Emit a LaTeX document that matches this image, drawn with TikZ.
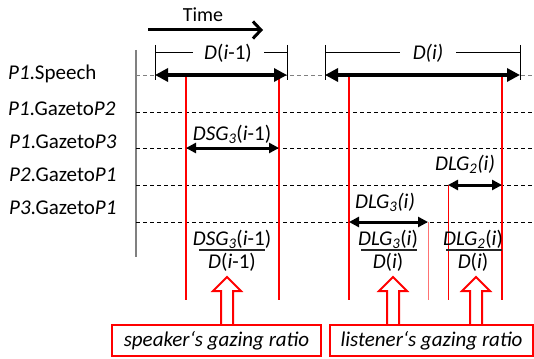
\documentclass[tikz,border=0pt]{standalone}
\usepackage{fontspec}
\setmainfont{Carlito}
\usetikzlibrary{arrows.meta}
\begin{document}
\begin{tikzpicture}[x=1pt,y=-1pt,
  every node/.style={font=\fontsize{21}{24}\selectfont, inner sep=0pt},
  lbl/.style={anchor=west},
  rowline/.style={dash pattern=on 4pt off 3pt, line width=0.9pt},
  bigarr/.style={line width=3.2pt, {Triangle[length=13pt,width=13pt]}-{Triangle[length=13pt,width=13pt]}},
  smallarr/.style={line width=3pt, {Triangle[length=10pt,width=10pt]}-{Triangle[length=10pt,width=10pt]}},
  redline/.style={red, line width=2.5pt},
  thinred/.style={red, line width=1pt},
  bracket/.style={line width=1pt},
  fracbar/.style={black!85, line width=1.2pt},
  ratiobox/.style={draw=red, line width=2pt, fill=white, minimum height=31pt, font=\fontsize{21}{24}\selectfont\itshape},
  blockarrow/.style={draw=red, line width=2pt, fill=white, line join=miter}
]
\useasboundingbox (0,0) rectangle (534,358);

% time arrow
\node[font=\fontsize{20}{24}\selectfont] (time) at (203,15) {Time};
\coordinate (tA) at (148,30);
\coordinate (tB) at (263,30);
\draw[line width=3pt, -{Straight Barb[length=8pt,width=17pt]}] (tA) -- (tB);

% axis
\coordinate (ax1) at (136,50);
\coordinate (ax2) at (136,257);
\draw[gray, line width=1.5pt] (ax1) -- (ax2);

% row labels
\node[lbl] (l1) at (8,74) {\textit{P1}.Speech};
\node[lbl] (l2) at (8,109) {\textit{P1}.Gazeto\textit{P2}};
\node[lbl] (l3) at (9,142) {\textit{P1}.Gazeto\textit{P3}};
\node[lbl] (l4) at (9,175) {\textit{P2}.Gazeto\textit{P1}};
\node[lbl] (l5) at (9,208) {\textit{P3}.Gazeto\textit{P1}};

% dashed rows
\coordinate (r1a) at (136,75);  \coordinate (r1b) at (534,75);
\coordinate (r2a) at (136,112); \coordinate (r2b) at (534,112);
\coordinate (r3a) at (136,148); \coordinate (r3b) at (534,148);
\coordinate (r4a) at (136,185); \coordinate (r4b) at (534,185);
\coordinate (r5a) at (136,222); \coordinate (r5b) at (534,222);
\draw[rowline, gray] (r1a) -- (r1b);
\draw[rowline] (r2a) -- (r2b);
\draw[rowline] (r3a) -- (r3b);
\draw[rowline] (r4a) -- (r4b);
\draw[rowline] (r5a) -- (r5b);

% brackets D(i-1)
\node (d1) at (228,53) {\textit{D}(\textit{i}-1)};
\coordinate (b1a) at (155,45); \coordinate (b1b) at (155,80);
\coordinate (b1c) at (287,45); \coordinate (b1d) at (287,80);
\coordinate (b1e) at (155,53); \coordinate (b1f) at (193,53);
\coordinate (b1g) at (264,53); \coordinate (b1h) at (287,53);
\draw[bracket] (b1a) -- (b1b);
\draw[bracket] (b1c) -- (b1d);
\draw[bracket] (b1e) -- (b1f);
\draw[bracket] (b1g) -- (b1h);

% brackets D(i)
\node (d2) at (428,53) {\textit{D(i)}};
\coordinate (b2a) at (325,45); \coordinate (b2b) at (325,80);
\coordinate (b2c) at (520,45); \coordinate (b2d) at (520,80);
\coordinate (b2e) at (325,53); \coordinate (b2f) at (400,53);
\coordinate (b2g) at (456,53); \coordinate (b2h) at (520,53);
\draw[bracket] (b2a) -- (b2b);
\draw[bracket] (b2c) -- (b2d);
\draw[bracket] (b2e) -- (b2f);
\draw[bracket] (b2g) -- (b2h);

% red vertical lines
\coordinate (v1a) at (186,75);  \coordinate (v1b) at (186,300);
\coordinate (v2a) at (279,75);  \coordinate (v2b) at (279,300);
\coordinate (v3a) at (349,75);  \coordinate (v3b) at (349,300);
\coordinate (v4a) at (502,75);  \coordinate (v4b) at (502,300);
\coordinate (v5a) at (428,222); \coordinate (v5b) at (428,300);
\coordinate (v6a) at (448,185); \coordinate (v6b) at (448,300);
\draw[redline] (v1a) -- (v1b);
\draw[redline] (v2a) -- (v2b);
\draw[redline] (v3a) -- (v3b);
\draw[redline] (v4a) -- (v4b);
\draw[thinred, red!55] (v5a) -- (v5b);
\draw[thinred] (v6a) -- (v6b);

% speech arrows
\coordinate (s1a) at (155,75); \coordinate (s1b) at (287,75);
\coordinate (s2a) at (325,75); \coordinate (s2b) at (520,75);
\draw[bigarr] (s1a) -- (s1b);
\draw[bigarr] (s2a) -- (s2b);

% gaze arrows
\coordinate (g1a) at (186,148); \coordinate (g1b) at (279,148);
\coordinate (g2a) at (448,185); \coordinate (g2b) at (502,185);
\coordinate (g3a) at (349,222); \coordinate (g3b) at (428,222);
\draw[smallarr] (g1a) -- (g1b);
\draw[smallarr] (g2a) -- (g2b);
\draw[smallarr] (g3a) -- (g3b);
\node (dsg) at (232,134) {\textit{DSG\textsubscript{3}}(\textit{i}-1)};
\node (dlg2) at (465,164) {\textit{DLG\textsubscript{2}(i)}};
\node (dlg3) at (385,202) {\textit{DLG\textsubscript{3}(i)}};

% fractions
\node (f1n) at (232,239) {\textit{DSG\textsubscript{3}}(\textit{i}-1)};
\node (f1d) at (232,262) {\textit{D}(\textit{i}-1)};
\coordinate (f1a) at (199,250); \coordinate (f1b) at (265,250);
\draw[fracbar] (f1a) -- (f1b);
\node (f2n) at (388,239) {\textit{DLG\textsubscript{3}}(\textit{i})};
\node (f2d) at (388,262) {\textit{D}(\textit{i})};
\coordinate (f2a) at (361,250); \coordinate (f2b) at (417,250);
\draw[fracbar] (f2a) -- (f2b);
\node (f3n) at (473,239) {\textit{DLG\textsubscript{2}}(\textit{i})};
\node (f3d) at (473,262) {\textit{D}(\textit{i})};
\coordinate (f3a) at (446,250); \coordinate (f3b) at (502,250);
\draw[fracbar] (f3a) -- (f3b);

% block arrows
\draw[blockarrow] (221,326) -- (221,291) -- (213,291) -- (227,277) -- (241,291) -- (233,291) -- (233,326);
\draw[blockarrow] (387,326) -- (387,291) -- (379,291) -- (393,277) -- (407,291) -- (399,291) -- (399,326);
\draw[blockarrow] (470,326) -- (470,291) -- (462,291) -- (476,277) -- (490,291) -- (482,291) -- (482,326);

% boxes
\node[ratiobox, minimum width=209pt] (spk) at (216.5,340.5) {speaker‘s gazing ratio};
\node[ratiobox, minimum width=203pt] (lst) at (431.5,340.5) {listener‘s gazing ratio};
\end{tikzpicture}
\end{document}
